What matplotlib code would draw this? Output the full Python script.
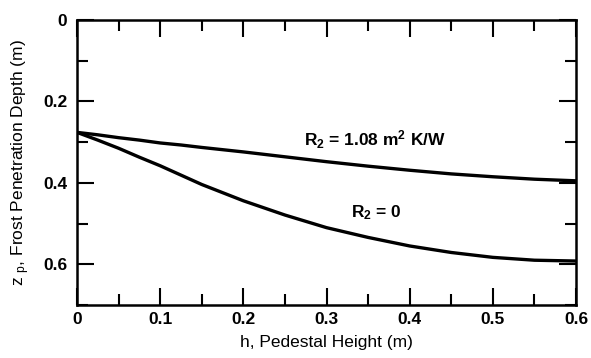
import matplotlib
matplotlib.use("Agg")
import matplotlib.pyplot as plt
from matplotlib.ticker import MultipleLocator, FixedLocator

h = [0.0, 0.025, 0.05, 0.075, 0.1, 0.125, 0.15, 0.2, 0.25, 0.3, 0.35, 0.4, 0.45, 0.5, 0.55, 0.6]
zp_r108 = [0.276, 0.282, 0.289, 0.295, 0.302, 0.307, 0.313, 0.324, 0.336, 0.348, 0.359, 0.369, 0.378, 0.385, 0.391, 0.395]
zp_r0 = [0.276, 0.295, 0.315, 0.337, 0.358, 0.381, 0.404, 0.444, 0.479, 0.510, 0.534, 0.555, 0.571, 0.583, 0.590, 0.592]
x_ticks = [0, 0.1, 0.2, 0.3, 0.4, 0.5, 0.6]
x_tick_labels = ["0", "0.1", "0.2", "0.3", "0.4", "0.5", "0.6"]
y_ticks = [0, 0.2, 0.4, 0.6]
y_tick_labels = ["0", "0.2", "0.4", "0.6"]

plt.rcParams['font.family'] = ['Liberation Sans', 'DejaVu Sans']
plt.rcParams['font.weight'] = 'bold'
plt.rcParams['mathtext.default'] = 'regular'

fig = plt.figure(figsize=(5.91, 3.58), dpi=100)
ax = fig.add_axes([77/591, 1 - 305/358, (576-77)/591, (305-20)/358])

ax.plot(h, zp_r108, color='black', lw=2.4, solid_joinstyle='round')
ax.plot(h, zp_r0, color='black', lw=2.4, solid_joinstyle='round')

ax.set_xlim(0, 0.6)
ax.set_ylim(0.7, 0)

ax.xaxis.set_major_locator(FixedLocator(x_ticks))
ax.set_xticklabels(x_tick_labels)
ax.xaxis.set_minor_locator(MultipleLocator(0.05))
ax.yaxis.set_major_locator(FixedLocator(y_ticks))
ax.set_yticklabels(y_tick_labels)
ax.yaxis.set_minor_locator(MultipleLocator(0.1))

fs = 12.5
ax.tick_params(which='both', direction='in', top=True, right=True, width=1.5, labelsize=fs)
ax.tick_params(which='major', length=12)
ax.tick_params(which='minor', length=8)
ax.tick_params(axis='x', pad=5)
ax.tick_params(axis='y', pad=7)
for s in ax.spines.values():
    s.set_linewidth(1.8)

ax.text(0.358, 0.294, r"R$_2$ = 1.08 m$^2$ K/W", ha='center', va='center', fontsize=fs)
ax.text(0.36, 0.472, r"R$_2$ = 0", ha='center', va='center', fontsize=fs)

ax.set_xlabel("h, Pedestal Height (m)", fontsize=fs, labelpad=6)
ax.set_ylabel(r"z $_p$, Frost Penetration Depth (m)", fontsize=fs, labelpad=8)

fig.savefig("out.png", dpi=100)
